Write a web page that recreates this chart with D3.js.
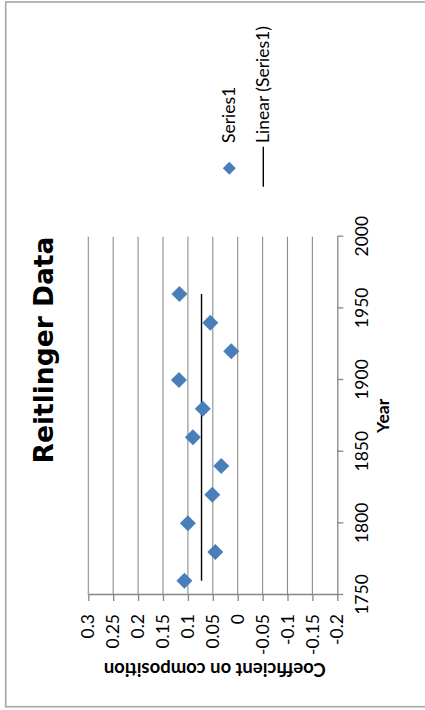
<!DOCTYPE html>
<html><head><meta charset="utf-8">
<script src="https://cdn.jsdelivr.net/npm/d3@7"></script>
<style>body{margin:0;background:#fff}svg{display:block}</style>
</head><body>
<svg id="c" width="425" height="710"></svg>
<script>
const years = [1760,1780,1800,1820,1840,1860,1880,1900,1920,1940,1960];
const coefs = [0.107,0.045,0.100,0.051,0.033,0.090,0.070,0.118,0.013,0.055,0.117];
const yearTicks = [1750,1800,1850,1900,1950,2000];
const valueTicks = [-0.2,-0.15,-0.1,-0.05,0,0.05,0.1,0.15,0.2,0.25,0.3];
const valueTickLabels = ["-0.2","-0.15","-0.1","-0.05","0","0.05","0.1","0.15","0.2","0.25","0.3"];
const chartTitle = "Reitlinger Data";
const xTitle = "Year";
const yTitle = "Coefficient on composition";
const seriesName = "Series1";
const trendName = "Linear (Series1)";

const W = 710, H = 425;
const svg = d3.select("#c");
// chart drawn in its own landscape frame, then turned a quarter turn counter-clockwise
const g = svg.append("g").attr("transform", `translate(0,${W}) rotate(-90)`);

g.append("rect").attr("x",3.3).attr("y",5.7).attr("width",704.7).attr("height",430)
  .attr("fill","#fff").attr("stroke","#a6a6a6").attr("stroke-width",1.6);

const x = d3.scaleLinear().domain([1750,2000]).range([115,473.3]);
const y = d3.scaleLinear().domain([-0.2,0.3]).range([337.3,88.3]);

// gridlines
g.append("g").selectAll("line").data(valueTicks.filter(v=>v>-0.2)).join("line")
  .attr("x1",x(1750)).attr("x2",x(2000))
  .attr("y1",d=>y(d)).attr("y2",d=>y(d))
  .attr("stroke","#8c8c8c").attr("stroke-width",1.1);

const font = "Lato, 'Open Sans', sans-serif";
const lblMap = new Map(valueTicks.map((v,i)=>[v,valueTickLabels[i]]));

const ax = g.append("g").attr("transform",`translate(0,${y(-0.2)})`)
  .call(d3.axisBottom(x).tickValues(yearTicks).tickFormat(d=>String(d)).tickSize(6).tickSizeOuter(0).tickPadding(12));
const ay = g.append("g").attr("transform",`translate(${x(1750)},0)`)
  .call(d3.axisLeft(y).tickValues(valueTicks).tickFormat(d=>lblMap.get(d)).tickSize(6).tickSizeOuter(0).tickPadding(13));
[ax,ay].forEach(a=>{
  a.select(".domain").attr("stroke","#868686").attr("stroke-width",1.3);
  a.selectAll(".tick line").attr("stroke","#868686").attr("stroke-width",1.3);
  a.selectAll("text").attr("fill","#000").style("font-family",font).style("font-size","17.5px");
});

// trend line (least squares)
const mx = d3.mean(years), my = d3.mean(coefs);
const slope = d3.sum(years.map((v,i)=>(v-mx)*(coefs[i]-my))) / d3.sum(years.map(v=>(v-mx)*(v-mx)));
const icpt = my - slope*mx;
const x0 = d3.min(years), x1 = d3.max(years);
g.append("line").attr("x1",x(x0)).attr("x2",x(x1))
  .attr("y1",y(icpt+slope*x0)).attr("y2",y(icpt+slope*x1))
  .attr("stroke","#000").attr("stroke-width",1.4);

// markers
const diamond = r => `M0,${-r}L${r},0L0,${r}L${-r},0Z`;
g.append("g").selectAll("path").data(years).join("path")
  .attr("d",diamond(8))
  .attr("transform",(d,i)=>`translate(${x(d)},${y(coefs[i])})`)
  .attr("fill","#4a7ebb");

// titles
g.append("text").attr("x",360).attr("y",53.3).attr("text-anchor","middle")
  .style("font-family","'DejaVu Sans', sans-serif").style("font-weight","bold").style("font-size","26.5px")
  .text(chartTitle);
g.append("text").attr("x",(x(1750)+x(2000))/2).attr("y",389).attr("text-anchor","middle")
  .style("font-family",font).style("font-weight","bold").style("font-size","17.5px").text(xTitle);
g.append("text").attr("transform",`translate(47,${(y(-0.2)+y(0.3))/2+2}) rotate(-90)`).attr("text-anchor","middle")
  .style("font-family",font).style("font-weight","bold").style("font-size","18.5px").text(yTitle);

// legend
g.append("path").attr("d",diamond(6.5)).attr("transform","translate(541.7,229.3)").attr("fill","#4a7ebb");
g.append("text").attr("x",567).attr("y",229.3).attr("dy","0.35em")
  .style("font-family",font).style("font-size","17.5px").text(seriesName);
g.append("line").attr("x1",523.3).attr("x2",563.3).attr("y1",263.3).attr("y2",263.3)
  .attr("stroke","#000").attr("stroke-width",1.4);
g.append("text").attr("x",567).attr("y",263.3).attr("dy","0.35em")
  .style("font-family",font).style("font-size","17.5px").text(trendName);
</script>
</body></html>
